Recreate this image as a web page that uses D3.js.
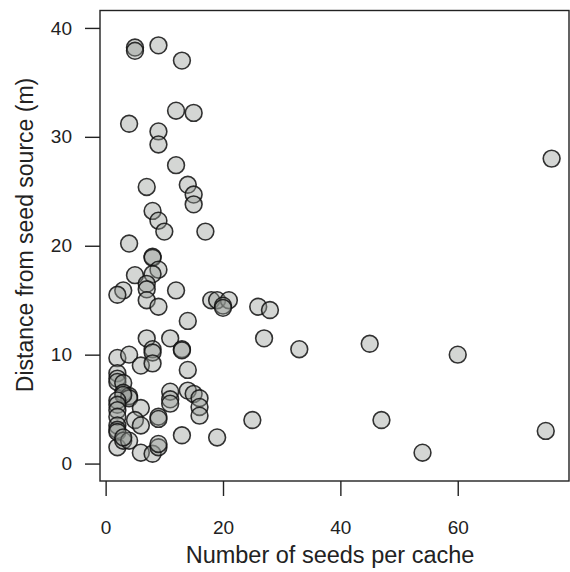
<!DOCTYPE html>
<html>
<head>
<meta charset="utf-8">
<script src="https://cdn.jsdelivr.net/npm/d3@7"></script>
<style>
  html, body { margin: 0; padding: 0; background: #fff; }
  svg { display: block; font-family: "Liberation Sans", Arial, sans-serif; }
</style>
</head>
<body>
<svg id="chart" width="570" height="572"></svg>
<script>
// Number of seeds per cache (x) and distance from seed source in m (y)
const seeds = [
  5, 5, 9, 13, 12, 15, 4, 9, 9, 12,
  7, 14, 15, 15, 8, 9, 10, 17, 4,
  8, 8, 9, 8, 5, 7, 7, 3, 2, 7, 9, 12,
  18, 19, 21, 20, 20, 26, 28, 14,
  7, 11, 27, 33, 45, 60, 76,
  8, 8, 13, 13, 2, 4, 6, 8, 14,
  2, 2, 2, 3,
  3, 4, 4, 3,
  2, 2, 2, 6, 5, 6, 9, 9,
  11, 11, 11, 14, 15, 16, 16, 16, 13, 19, 25,
  2, 2, 2, 2, 2, 3, 4, 3, 6, 8, 9, 9,
  47, 54, 75
];
const distance = [
  38.2, 37.9, 38.4, 37.0, 32.4, 32.2, 31.2, 30.5, 29.3, 27.4,
  25.4, 25.6, 24.7, 23.8, 23.2, 22.3, 21.3, 21.3, 20.2,
  19.0, 18.9, 17.8, 17.4, 17.3, 16.5, 16.0, 15.9, 15.5, 15.0, 14.4, 15.9,
  15.0, 15.0, 15.0, 14.5, 14.3, 14.4, 14.1, 13.1,
  11.5, 11.5, 11.5, 10.5, 11.0, 10.0, 28.0,
  10.5, 10.2, 10.5, 10.4, 9.7, 10.0, 9.0, 9.2, 8.6,
  8.3, 7.8, 7.5, 7.4,
  6.5, 6.2, 6.0, 6.3,
  5.8, 5.4, 4.9, 5.1, 4.0, 3.5, 4.3, 4.1,
  6.6, 5.9, 5.5, 6.7, 6.4, 6.0, 5.2, 4.4, 2.6, 2.4, 4.0,
  4.3, 3.5, 3.1, 2.9, 1.5, 2.1, 2.1, 2.4, 1.0, 0.9, 1.5, 1.8,
  4.0, 1.0, 3.0
];
const xTicks = [0, 20, 40, 60];
const yTicks = [0, 10, 20, 30, 40];
const xTitle = "Number of seeds per cache";
const yTitle = "Distance from seed source (m)";

const points = seeds.map((s, i) => ({ x: s, y: distance[i] }));

const svg = d3.select("#chart");
const pLeft = 100, pRight = 569, pTop = 10.5, pBottom = 481;

const x = d3.scaleLinear().domain([-0.96, 78.96]).range([pLeft, pRight]);
const y = d3.scaleLinear().domain([-1.6, 41.6]).range([pBottom, pTop]);

const ink = "#222";

// points
svg.append("g")
  .selectAll("circle")
  .data(points)
  .join("circle")
  .attr("cx", d => x(d.x))
  .attr("cy", d => y(d.y))
  .attr("r", 8.4)
  .attr("fill", "rgb(148,153,148)")
  .attr("fill-opacity", 0.4)
  .attr("stroke", "#111")
  .attr("stroke-opacity", 0.85)
  .attr("stroke-width", 1.6);

// box
svg.append("rect")
  .attr("x", pLeft).attr("y", pTop)
  .attr("width", pRight - pLeft).attr("height", pBottom - pTop)
  .attr("fill", "none").attr("stroke", ink).attr("stroke-width", 1.4);

// axes
const gx = svg.append("g")
  .attr("transform", `translate(0,${pBottom})`)
  .call(d3.axisBottom(x).tickValues(xTicks).tickSize(15).tickPadding(25).tickFormat(d3.format("d")));
const gy = svg.append("g")
  .attr("transform", `translate(${pLeft},0)`)
  .call(d3.axisLeft(y).tickValues(yTicks).tickSize(15).tickPadding(13).tickFormat(d3.format("d")));

[gx, gy].forEach(g => {
  g.select(".domain").remove();
  g.selectAll(".tick line").attr("stroke", ink).attr("stroke-width", 1.4);
  g.selectAll(".tick text")
    .attr("fill", ink)
    .style("font-size", "19px")
    .style("font-family", "'Liberation Sans', Arial, sans-serif");
});

// titles
svg.append("text")
  .attr("x", 330)
  .attr("y", 563)
  .attr("text-anchor", "middle")
  .attr("fill", ink)
  .style("font-size", "23.5px")
  .text(xTitle);

svg.append("text")
  .attr("transform", `translate(33,235) rotate(-90)`)
  .attr("text-anchor", "middle")
  .attr("fill", ink)
  .style("font-size", "23px")
  .text(yTitle);
</script>
</body>
</html>
